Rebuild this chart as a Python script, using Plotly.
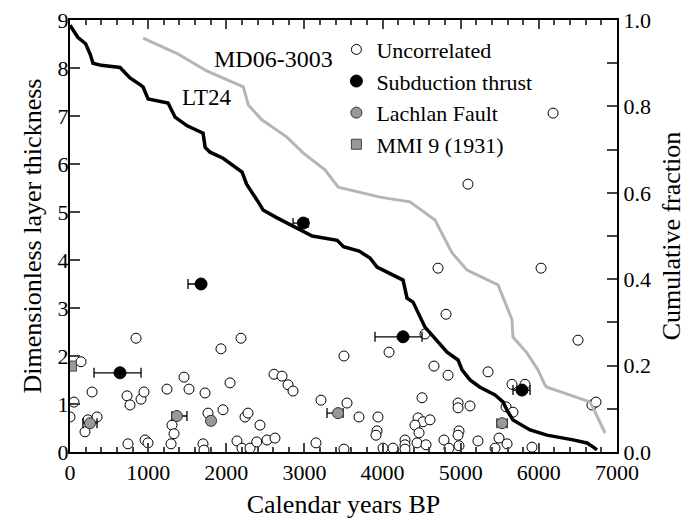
import plotly.graph_objects as go

# ---- data ----
lt24_x = [0, 100, 200, 260, 294, 400, 640, 700, 768, 900, 935, 1000, 1255, 1345, 1500, 1703, 1730, 1792,
          1959, 2202, 2260, 2433, 2470, 2650, 2945, 3100, 3419, 3500, 3700, 3839, 3929, 4262, 4313, 4390,
          4543, 4825, 4966, 5017, 5119, 5247, 5439, 5541, 5593, 5669, 5887, 6104, 6437, 6616, 6693, 6744]
lt24_y = [0.988, 0.960, 0.945, 0.920, 0.900, 0.895, 0.890, 0.880, 0.866, 0.850, 0.845, 0.817, 0.808, 0.775,
          0.755, 0.738, 0.705, 0.694, 0.680, 0.648, 0.620, 0.572, 0.560, 0.542, 0.514, 0.500, 0.490, 0.475,
          0.465, 0.449, 0.428, 0.398, 0.356, 0.347, 0.289, 0.231, 0.213, 0.190, 0.167, 0.150, 0.132, 0.116,
          0.097, 0.074, 0.051, 0.039, 0.028, 0.021, 0.012, 0.005]

md06_x = [935, 1366, 1750, 2218, 2282, 2455, 2775, 2987, 3263, 3433, 3967, 4351, 4671, 4735, 4889, 5081,
          5477, 5567, 5656, 5669, 5849, 5989, 6079, 6104, 6654, 6719, 6847]
md06_y = [0.958, 0.923, 0.882, 0.845, 0.803, 0.769, 0.729, 0.692, 0.653, 0.613, 0.590, 0.579, 0.537, 0.514,
          0.461, 0.421, 0.387, 0.347, 0.306, 0.266, 0.229, 0.190, 0.155, 0.150, 0.116, 0.093, 0.044]

unc_x = [6182, 5093, 4710, 6028, 4812, 4543, 4083, 6501, 4658, 4838, 5350, 5656, 5823, 141, 845, 1932, 2188,
         3506, 1459, 2048, 2611, 2713, 2790, 2854, 282, 730, 768, 909, 947, 1241, 1523, 1728, 51, 0, 230, 346,
         192, 742, 960, 998, 1293, 1305, 1331, 1702, 1715, 1766, 1958, 2137, 2201, 2240, 2278, 2431, 2304,
         2390, 2521, 2623, 3212, 3545, 3698, 3941, 3148, 3506, 3929, 3916, 4006, 4134, 4287, 4287, 4287, 4505,
         4454, 4518, 4607, 4415, 4467, 4441, 4556, 4786, 4850, 4966, 4966, 5119, 4978, 4966, 4978, 5221, 6680,
         6731, 5580, 5669, 5490, 5439, 5593, 5912]
unc_y = [7.06, 5.58, 3.83, 3.83, 2.87, 2.46, 2.08, 2.33, 1.79, 1.60, 1.67, 1.41, 1.41, 1.88, 2.37, 2.15, 2.37,
         2.00, 1.56, 1.44, 1.62, 1.58, 1.40, 1.27, 1.25, 1.17, 0.98, 1.10, 1.25, 1.31, 1.31, 1.23, 1.04, 0.73,
         0.67, 0.73, 0.42, 0.17, 0.25, 0.19, 0.17, 0.56, 0.38, 0.17, 0.04, 0.81, 0.88, 0.23, 0.08, 0.73, 0.81,
         0.56, 0.08, 0.21, 0.25, 0.29, 1.08, 1.02, 0.73, 0.73, 0.19, 0.06, 0.44, 0.35, 0.08, 0.08, 0.25, 0.15,
         0.06, 1.13, 0.71, 0.63, 0.67, 0.56, 0.40, 0.19, 0.15, 0.25, 0.08, 1.02, 0.92, 0.96, 0.44, 0.35, 0.13,
         0.23, 0.98, 1.04, 0.94, 0.83, 0.29, 0.08, 0.17, 0.10]

sub_x = [640, 1677, 2986, 4262, 5784]
sub_y = [1.65, 3.50, 4.77, 2.40, 1.29]
sub_err_minus = [333, 167, 132, 359, 115]
sub_err_plus = [269, 0, 60, 243, 103]

lach_x = [256, 1369, 1805, 3430, 5529]
lach_y = [0.60, 0.75, 0.65, 0.81, 0.60]
lach_err_minus = [90, 64, 39, 141, 64]
lach_err_plus = [90, 128, 38, 64, 64]

mmi_x = [19]
mmi_y = [1.79]

FONT = "Liberation Serif"

fig = go.Figure()

fig.add_trace(go.Scatter(x=lt24_x, y=lt24_y, mode="lines", yaxis="y2", showlegend=False,
                         line=dict(color="black", width=3.5), hoverinfo="skip"))
fig.add_trace(go.Scatter(x=md06_x, y=md06_y, mode="lines", yaxis="y2", showlegend=False,
                         line=dict(color="#b5b5b5", width=3), hoverinfo="skip"))

fig.add_trace(go.Scatter(x=unc_x, y=unc_y, mode="markers", name="Uncorrelated", legendgroup="a",
                         marker=dict(symbol="circle", size=10, color="white",
                                     line=dict(color="black", width=1))))
fig.add_trace(go.Scatter(x=sub_x, y=sub_y, mode="markers", name="Subduction thrust", legendgroup="b",
                         error_x=dict(type="data", symmetric=False, array=sub_err_plus,
                                      arrayminus=sub_err_minus, color="black", thickness=1.3, width=5),
                         marker=dict(symbol="circle", size=12, color="black",
                                     line=dict(color="black", width=1))))
fig.add_trace(go.Scatter(x=lach_x, y=lach_y, mode="markers", name="Lachlan Fault", legendgroup="c",
                         error_x=dict(type="data", symmetric=False, array=lach_err_plus,
                                      arrayminus=lach_err_minus, color="black", thickness=1.3, width=5),
                         marker=dict(symbol="circle", size=11, color="#999999",
                                     line=dict(color="#333333", width=1))))
fig.add_trace(go.Scatter(x=mmi_x, y=mmi_y, mode="markers", name="MMI 9 (1931)", legendgroup="d",
                         marker=dict(symbol="square", size=10, color="#999999",
                                     line=dict(color="#444444", width=1))))

fig.add_annotation(x=2600, y=8.19, xref="x", yref="y", text="MD06-3003", showarrow=False,
                   font=dict(family=FONT, size=24, color="black"))
fig.add_annotation(x=1750, y=7.38, xref="x", yref="y", text="LT24", showarrow=False,
                   font=dict(family=FONT, size=23, color="black"))

fig.update_layout(
    width=692, height=519,
    margin=dict(l=62, r=83, t=12, b=75),
    paper_bgcolor="white", plot_bgcolor="white",
    font=dict(family=FONT, size=22, color="black"),
    showlegend=True,
    legend=dict(x=0.487, y=0.98, xanchor="left", yanchor="top", bgcolor="rgba(0,0,0,0)",
                font=dict(family=FONT, size=22), tracegroupgap=0, itemwidth=30),
    xaxis=dict(range=[0, 7000], dtick=1000, tick0=0, ticks="inside", ticklen=9, tickwidth=1.5,
               showline=True, linecolor="black", linewidth=2, mirror="ticks", showgrid=False,
               zeroline=False, tickfont=dict(family=FONT, size=22), automargin=False,
               ticklabeloverflow="allow",
               minor=dict(dtick=200, ticks="inside", ticklen=5, tickwidth=1.5, showgrid=False),
               title=dict(text="Calendar years BP", font=dict(family=FONT, size=26), standoff=10)),
    yaxis=dict(range=[0, 9], dtick=1, ticks="inside", ticklen=10, tickwidth=1.5, showline=True,
               linecolor="black", linewidth=2, showgrid=False, zeroline=False, automargin=False,
               tickfont=dict(family=FONT, size=22), ticklabeloverflow="allow", ticklabelstandoff=-5,
               title=dict(text="Dimensionless layer thickness", font=dict(family=FONT, size=26), standoff=8)),
    yaxis2=dict(range=[0, 1], dtick=0.2, tickformat=".1f", overlaying="y", side="right", ticks="inside",
                ticklen=10, tickwidth=1.5, showline=True, linecolor="black", linewidth=2, showgrid=False,
                zeroline=False, tickfont=dict(family=FONT, size=22), automargin=False,
                ticklabeloverflow="allow",
                minor=dict(dtick=0.1, ticks="inside", ticklen=10, tickwidth=1.5, showgrid=False),
                title=dict(text="Cumulative fraction", font=dict(family=FONT, size=26), standoff=12)),
)

fig.write_html("out.html")
